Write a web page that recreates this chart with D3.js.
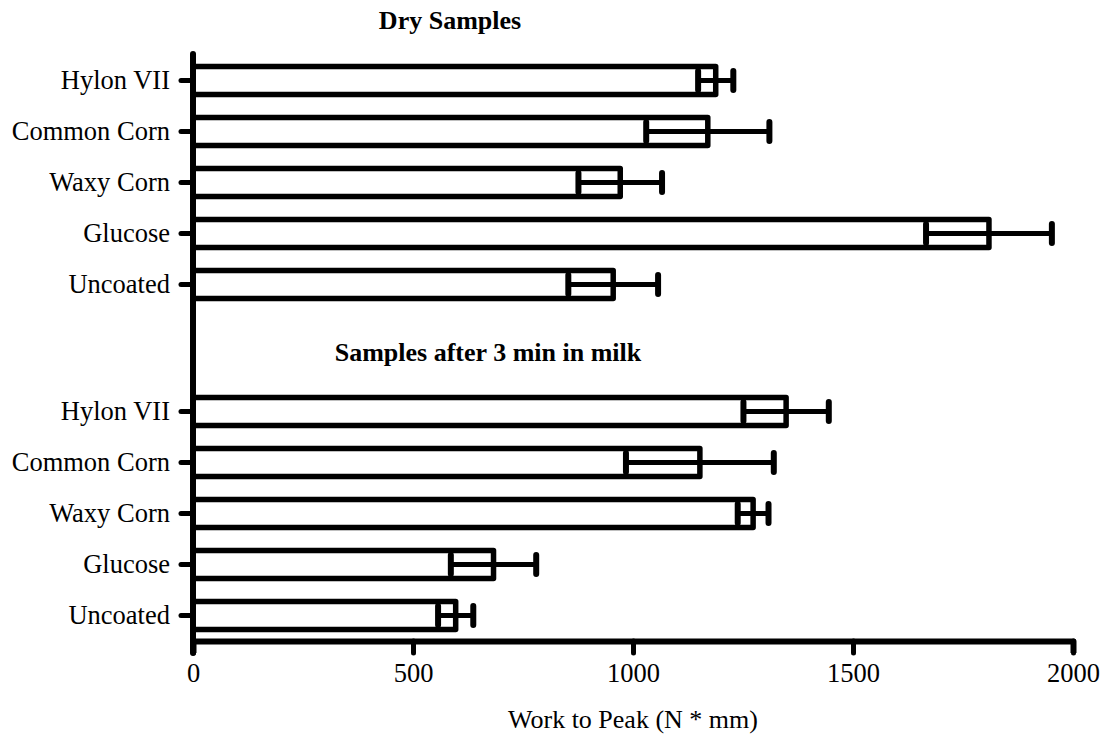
<!DOCTYPE html>
<html>
<head>
<meta charset="utf-8">
<script src="https://cdn.jsdelivr.net/npm/d3@7/dist/d3.min.js"></script>
<style>
  html, body { margin: 0; padding: 0; background: #fff; }
  svg { display: block; }
  text { font-family: "Liberation Serif", "Times New Roman", serif; fill: #000; }
</style>
</head>
<body>
<svg id="chart" width="1102" height="736"></svg>
<script>
// Work to peak (N * mm), mean and standard deviation per coating
const categories = ["Hylon VII", "Common Corn", "Waxy Corn", "Glucose", "Uncoated"];
const dryMeans   = [1188, 1170, 971, 1809, 955];
const dryErrors  = [40, 140, 95, 143, 102];
const milkMeans  = [1348, 1152, 1273, 683, 597];
const milkErrors = [97, 168, 35, 97, 40];
const xTicks = [0, 500, 1000, 1500, 2000];

const panelTitles = ["Dry Samples", "Samples after 3 min in milk"];
const xTitle = "Work to Peak (N * mm)";

const svg = d3.select("#chart");
const W = 1102, H = 736;
svg.append("rect").attr("width", W).attr("height", H).attr("fill", "#fff");

const left = 193, right = 1073;
const x = d3.scaleLinear().domain([0, 2000]).range([left, right]);

// two stacked panels sharing one x axis
const panels = [
  { title: panelTitles[0], means: dryMeans,  errors: dryErrors,  range: [55, 310],  titleY: 29,  titleX: 450 },
  { title: panelTitles[1], means: milkMeans, errors: milkErrors, range: [386, 641], titleY: 361, titleX: 488 }
];

const lw = 5.5;
const capH = 19;
const axisW = 6;
const tickLen = 12;
const labelSize = 26.5;

panels.forEach(p => {
  const y = d3.scaleBand()
    .domain(categories)
    .range(p.range)
    .paddingInner(0.45)
    .paddingOuter(0.225);

  const g = svg.append("g");
  const rows = categories.map((c, i) => ({ cat: c, mean: p.means[i], err: p.errors[i] }));

  // bars
  g.selectAll("rect.bar").data(rows).enter().append("rect")
    .attr("class", "bar")
    .attr("x", x(0))
    .attr("y", d => y(d.cat))
    .attr("width", d => x(d.mean) - x(0))
    .attr("height", y.bandwidth())
    .attr("fill", "#fff")
    .attr("stroke", "#000")
    .attr("stroke-width", lw)
    .attr("stroke-linejoin", "round");

  // error bars (whiskers span mean ± SD)
  const cy = d => y(d.cat) + y.bandwidth() / 2;
  g.selectAll("line.err").data(rows).enter().append("line")
    .attr("x1", d => x(d.mean - d.err))
    .attr("x2", d => x(d.mean + d.err))
    .attr("y1", cy).attr("y2", cy)
    .attr("stroke", "#000").attr("stroke-width", lw - 0.5);
  ["lo", "hi"].forEach(side => {
    g.selectAll("line.cap-" + side).data(rows).enter().append("line")
      .attr("x1", d => x(side === "lo" ? d.mean - d.err : d.mean + d.err))
      .attr("x2", d => x(side === "lo" ? d.mean - d.err : d.mean + d.err))
      .attr("y1", d => cy(d) - capH / 2)
      .attr("y2", d => cy(d) + capH / 2)
      .attr("stroke", "#000").attr("stroke-width", lw + 0.5)
      .attr("stroke-linecap", "round");
  });

  // category axis
  const ya = svg.append("g")
    .attr("transform", `translate(${left},0)`)
    .call(d3.axisLeft(y).tickSize(tickLen).tickSizeOuter(0).tickPadding(11));
  ya.select(".domain").remove();
  ya.selectAll(".tick line")
    .attr("stroke", "#000").attr("stroke-width", 5).attr("stroke-linecap", "round");
  ya.selectAll(".tick text")
    .attr("font-size", labelSize)
    .attr("fill", "#000");

  // panel title
  svg.append("text")
    .attr("x", p.titleX)
    .attr("y", p.titleY)
    .attr("text-anchor", "middle")
    .attr("font-size", 26)
    .attr("font-weight", "bold")
    .text(p.title);
});

// bottom value axis; its outer ticks extend the frame downwards
const xAxisY = panels[1].range[1];
const xa = svg.append("g")
  .attr("transform", `translate(0,${xAxisY})`)
  .call(d3.axisBottom(x).tickValues(xTicks).tickSize(tickLen).tickSizeOuter(tickLen).tickPadding(10)
    .tickFormat(d3.format("d")));
xa.select(".domain")
  .attr("stroke", "#000").attr("stroke-width", axisW)
  .attr("stroke-linejoin", "round").attr("fill", "none");
xa.selectAll(".tick line")
  .attr("stroke", "#000").attr("stroke-width", 5).attr("stroke-linecap", "round");
xa.selectAll(".tick text")
  .attr("font-size", labelSize)
  .attr("fill", "#000");

// continuous vertical axis spanning both panels
svg.append("line")
  .attr("x1", x(0)).attr("x2", x(0))
  .attr("y1", panels[0].range[0] - 1)
  .attr("y2", xAxisY + tickLen)
  .attr("stroke", "#000").attr("stroke-width", axisW)
  .attr("stroke-linecap", "round");

// axis title
svg.append("text")
  .attr("x", (left + right) / 2)
  .attr("y", 728)
  .attr("text-anchor", "middle")
  .attr("font-size", 26)
  .text(xTitle);
</script>
</body>
</html>
